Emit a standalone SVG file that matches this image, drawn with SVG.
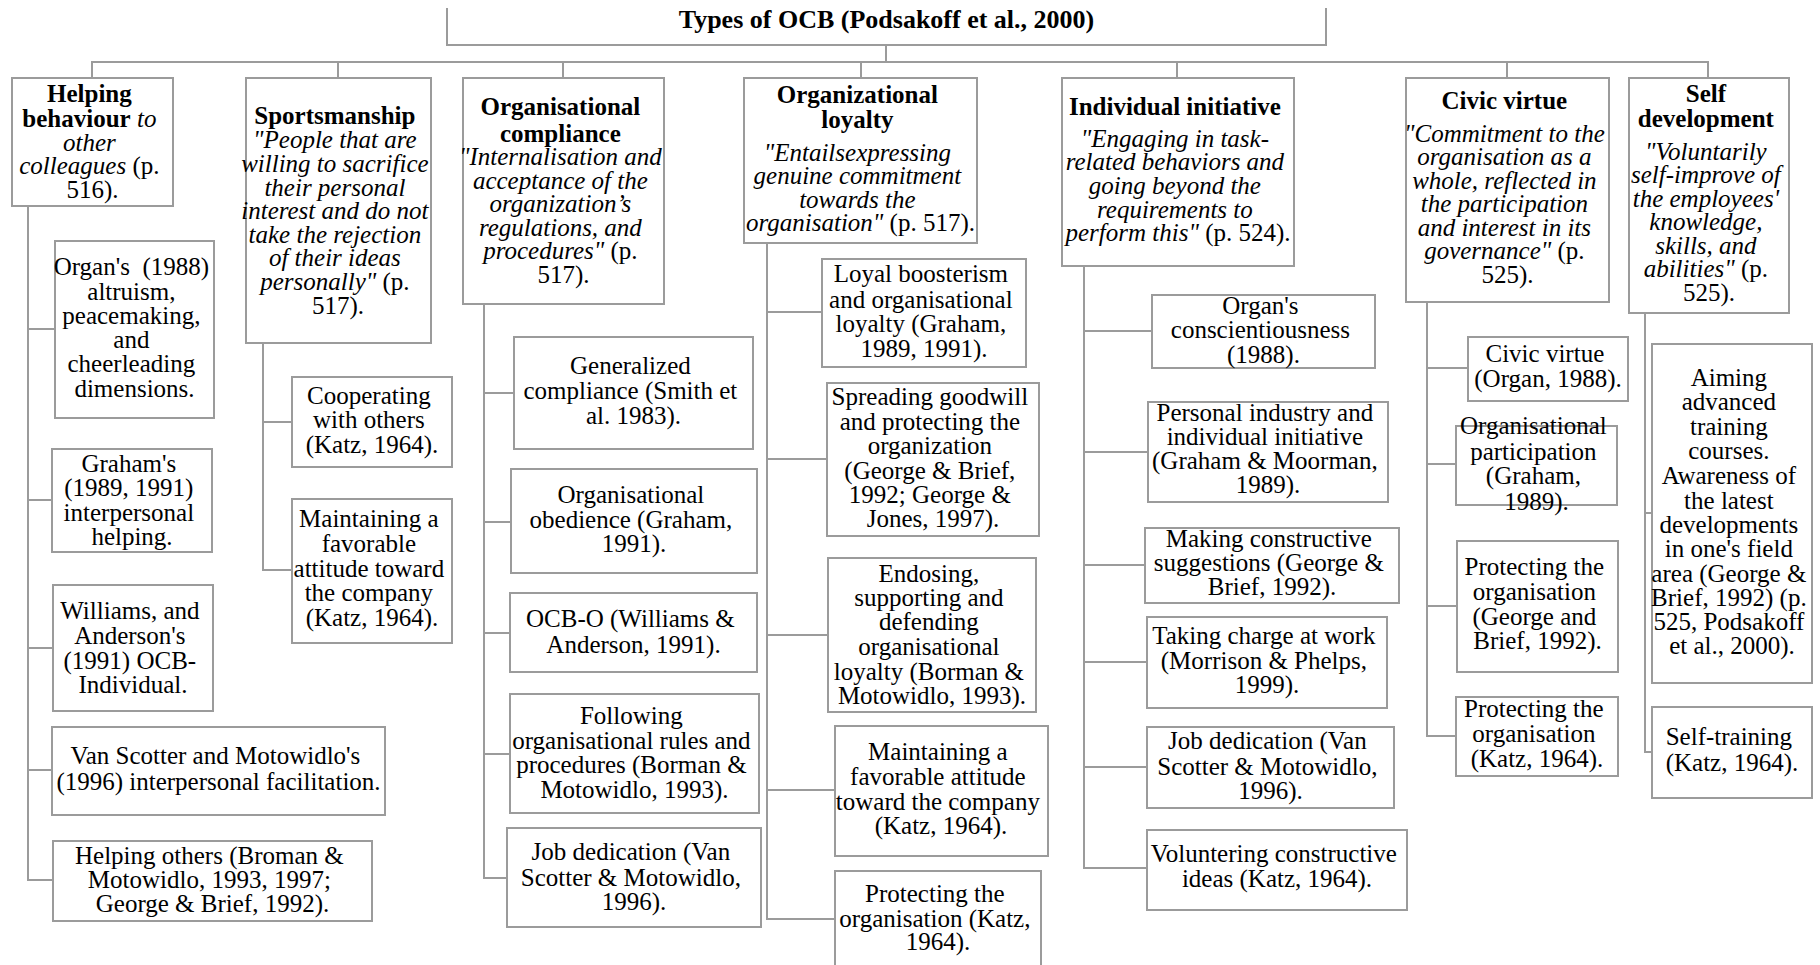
<svg xmlns="http://www.w3.org/2000/svg" width="1820" height="965" viewBox="0 0 1820 965">
  <style>
    .box { fill: #ffffff; stroke: #9b9b9b; stroke-width: 2; }
    .wire { fill: none; stroke: #9b9b9b; stroke-width: 2; }
    text { font-family: "Liberation Serif", "Times New Roman", serif; font-size: 25px; fill: #000000; text-anchor: middle; }
    .b { font-weight: bold; }
    .i { font-style: italic; }
    .head { font-size: 26px; font-weight: bold; }
  </style>

  <rect width="1820" height="965" fill="#ffffff"/>

  <!-- tree connectors -->
  <g id="connectors">
    <!-- root stem and top bus -->
    <path class="wire" d="M886,45 V62"/>
    <path class="wire" d="M92,78 V62 H1708 V78"/>
    <path class="wire" d="M338,62 V78 M563,62 V78 M861,62 V78 M1177,62 V78 M1507,62 V78"/>
    <!-- Helping behaviour branch -->
    <path class="wire" d="M28,206 V880 H53 M28,329 H55 M28,500 H52 M28,648 H53 M28,770 H52"/>
    <!-- Sportsmanship branch -->
    <path class="wire" d="M263,343 V570 H292 M263,422 H292"/>
    <!-- Organisational compliance branch -->
    <path class="wire" d="M484,304 V878 H507 M484,393 H514 M484,522 H511 M484,633 H510 M484,754 H510"/>
    <!-- Organizational loyalty branch -->
    <path class="wire" d="M767,243 V919 H835 M767,312 H822 M767,459 H827 M767,635 H828 M767,790 H835"/>
    <!-- Individual initiative branch -->
    <path class="wire" d="M1084,266 V868 H1147 M1084,331 H1152 M1084,452 H1148 M1084,565 H1145 M1084,662 H1147 M1084,767 H1147"/>
    <!-- Civic virtue branch -->
    <path class="wire" d="M1427,302 V736 H1456 M1427,368 H1468 M1427,464 H1456 M1427,606 H1457"/>
    <!-- Self development branch -->
    <path class="wire" d="M1645,313 V752 H1652 M1645,513 H1652"/>
  </g>

  <!-- root -->
  <g id="root">
    <path class="wire" d="M447,8 V45 H1326 V8"/>
    <text class="head" x="886.5" y="28">Types of OCB (Podsakoff et al., 2000)</text>
  </g>

  <!-- Helping behaviour -->
  <g id="helping">
    <rect class="box" x="12" y="78" width="161" height="128"/>
    <text>
      <tspan x="92.5" y="102" class="b">Helping</tspan>
      <tspan x="92.5" y="127"><tspan class="b">behaviour</tspan><tspan class="i"> to</tspan></tspan>
      <tspan x="92.5" y="150.5" class="i">other</tspan>
      <tspan x="92.5" y="174"><tspan class="i">colleagues</tspan> (p.</tspan>
      <tspan x="92.5" y="197.5">516).</tspan>
    </text>
  </g>
  <g id="helping-organ">
    <rect class="box" x="55" y="241" width="159" height="177"/>
    <text>
      <tspan x="134.5" y="275">Organ's&#160; (1988)</tspan>
      <tspan x="134.5" y="299.5">altruism,</tspan>
      <tspan x="134.5" y="323.5">peacemaking,</tspan>
      <tspan x="134.5" y="348">and</tspan>
      <tspan x="134.5" y="372">cheerleading</tspan>
      <tspan x="134.5" y="396.5">dimensions.</tspan>
    </text>
  </g>
  <g id="helping-graham">
    <rect class="box" x="52" y="449" width="160" height="103"/>
    <text>
      <tspan x="132" y="472">Graham's</tspan>
      <tspan x="132" y="496">(1989, 1991)</tspan>
      <tspan x="132" y="520.5">interpersonal</tspan>
      <tspan x="132" y="545">helping.</tspan>
    </text>
  </g>
  <g id="helping-williams">
    <rect class="box" x="53" y="585" width="160" height="126"/>
    <text>
      <tspan x="133" y="618.5">Williams, and</tspan>
      <tspan x="133" y="644">Anderson's</tspan>
      <tspan x="133" y="668.5">(1991) OCB-</tspan>
      <tspan x="133" y="693">Individual.</tspan>
    </text>
  </g>
  <g id="helping-vanscotter">
    <rect class="box" x="52" y="727" width="333" height="88"/>
    <text>
      <tspan x="218.5" y="764">Van Scotter and Motowidlo's</tspan>
      <tspan x="218.5" y="790">(1996) interpersonal facilitation.</tspan>
    </text>
  </g>
  <g id="helping-others">
    <rect class="box" x="53" y="841" width="319" height="80"/>
    <text>
      <tspan x="212.5" y="863.5">Helping others (Broman &amp;</tspan>
      <tspan x="212.5" y="888">Motowidlo, 1993, 1997;</tspan>
      <tspan x="212.5" y="912">George &amp; Brief, 1992).</tspan>
    </text>
  </g>

  <!-- Sportsmanship -->
  <g id="sportsmanship">
    <rect class="box" x="246" y="78" width="185" height="265"/>
    <text>
      <tspan x="338" y="123.5" class="b">Sportsmanship</tspan>
      <tspan x="338" y="148" class="i">"People that are</tspan>
      <tspan x="338" y="172" class="i">willing to sacrifice</tspan>
      <tspan x="338" y="195.5" class="i">their personal</tspan>
      <tspan x="338" y="219" class="i">interest and do not</tspan>
      <tspan x="338" y="242.5" class="i">take the rejection</tspan>
      <tspan x="338" y="266" class="i">of their ideas</tspan>
      <tspan x="338" y="289.5"><tspan class="i">personally"</tspan> (p.</tspan>
      <tspan x="338" y="313.5">517).</tspan>
    </text>
  </g>
  <g id="sports-cooperating">
    <rect class="box" x="292" y="377" width="160" height="90"/>
    <text>
      <tspan x="372" y="403.5">Cooperating</tspan>
      <tspan x="372" y="428">with others</tspan>
      <tspan x="372" y="452.5">(Katz, 1964).</tspan>
    </text>
  </g>
  <g id="sports-attitude">
    <rect class="box" x="292" y="499" width="160" height="144"/>
    <text>
      <tspan x="372" y="527">Maintaining a</tspan>
      <tspan x="372" y="551.5">favorable</tspan>
      <tspan x="372" y="576.5">attitude toward</tspan>
      <tspan x="372" y="601">the company</tspan>
      <tspan x="372" y="625.5">(Katz, 1964).</tspan>
    </text>
  </g>

  <!-- Organisational compliance -->
  <g id="compliance">
    <rect class="box" x="463" y="78" width="201" height="226"/>
    <text>
      <tspan x="563.5" y="115" class="b">Organisational</tspan>
      <tspan x="563.5" y="141.5" class="b">compliance</tspan>
      <tspan x="563.5" y="165" class="i">"Internalisation and</tspan>
      <tspan x="563.5" y="188.5" class="i">acceptance of the</tspan>
      <tspan x="563.5" y="212" class="i">organization’s</tspan>
      <tspan x="563.5" y="235.5" class="i">regulations, and</tspan>
      <tspan x="563.5" y="259"><tspan class="i">procedures"</tspan> (p.</tspan>
      <tspan x="563.5" y="282.5">517).</tspan>
    </text>
  </g>
  <g id="compliance-generalized">
    <rect class="box" x="514" y="337" width="239" height="112"/>
    <text>
      <tspan x="633.5" y="373.5">Generalized</tspan>
      <tspan x="633.5" y="399">compliance (Smith et</tspan>
      <tspan x="633.5" y="423.5">al. 1983).</tspan>
    </text>
  </g>
  <g id="compliance-obedience">
    <rect class="box" x="511" y="469" width="246" height="104"/>
    <text>
      <tspan x="634" y="503">Organisational</tspan>
      <tspan x="634" y="528">obedience (Graham,</tspan>
      <tspan x="634" y="552">1991).</tspan>
    </text>
  </g>
  <g id="compliance-ocbo">
    <rect class="box" x="510" y="593" width="247" height="79"/>
    <text>
      <tspan x="633.5" y="627">OCB-O (Williams &amp;</tspan>
      <tspan x="633.5" y="652.5">Anderson, 1991).</tspan>
    </text>
  </g>
  <g id="compliance-rules">
    <rect class="box" x="510" y="694" width="249" height="119"/>
    <text>
      <tspan x="634.5" y="723.5">Following</tspan>
      <tspan x="634.5" y="749">organisational rules and</tspan>
      <tspan x="634.5" y="773">procedures (Borman &amp;</tspan>
      <tspan x="634.5" y="797.5">Motowidlo, 1993).</tspan>
    </text>
  </g>
  <g id="compliance-dedication">
    <rect class="box" x="507" y="828" width="254" height="99"/>
    <text>
      <tspan x="634" y="860">Job dedication (Van</tspan>
      <tspan x="634" y="886">Scotter &amp; Motowidlo,</tspan>
      <tspan x="634" y="909.5">1996).</tspan>
    </text>
  </g>

  <!-- Organizational loyalty -->
  <g id="loyalty">
    <rect class="box" x="744" y="78" width="233" height="165"/>
    <text>
      <tspan x="860.5" y="103" class="b">Organizational</tspan>
      <tspan x="860.5" y="128" class="b">loyalty</tspan>
      <tspan x="860.5" y="160.5" class="i">"Entailsexpressing</tspan>
      <tspan x="860.5" y="184" class="i">genuine commitment</tspan>
      <tspan x="860.5" y="207.5" class="i">towards the</tspan>
      <tspan x="860.5" y="231"><tspan class="i">organisation"</tspan> (p. 517).</tspan>
    </text>
  </g>
  <g id="loyalty-boosterism">
    <rect class="box" x="822" y="259" width="204" height="108"/>
    <text>
      <tspan x="924" y="282">Loyal boosterism</tspan>
      <tspan x="924" y="307.5">and organisational</tspan>
      <tspan x="924" y="332">loyalty (Graham,</tspan>
      <tspan x="924" y="356.5">1989, 1991).</tspan>
    </text>
  </g>
  <g id="loyalty-goodwill">
    <rect class="box" x="827" y="383" width="212" height="153"/>
    <text>
      <tspan x="933" y="405">Spreading goodwill</tspan>
      <tspan x="933" y="429.5">and protecting the</tspan>
      <tspan x="933" y="454">organization</tspan>
      <tspan x="933" y="478.5">(George &amp; Brief,</tspan>
      <tspan x="933" y="502.5">1992; George &amp;</tspan>
      <tspan x="933" y="527">Jones, 1997).</tspan>
    </text>
  </g>
  <g id="loyalty-endorsing">
    <rect class="box" x="828" y="558" width="208" height="154"/>
    <text>
      <tspan x="932" y="582">Endosing,</tspan>
      <tspan x="932" y="606">supporting and</tspan>
      <tspan x="932" y="630">defending</tspan>
      <tspan x="932" y="655">organisational</tspan>
      <tspan x="932" y="679.5">loyalty (Borman &amp;</tspan>
      <tspan x="932" y="704">Motowidlo, 1993).</tspan>
    </text>
  </g>
  <g id="loyalty-attitude">
    <rect class="box" x="835" y="726" width="213" height="130"/>
    <text>
      <tspan x="941" y="760">Maintaining a</tspan>
      <tspan x="941" y="785">favorable attitude</tspan>
      <tspan x="941" y="809.5">toward the company</tspan>
      <tspan x="941" y="834">(Katz, 1964).</tspan>
    </text>
  </g>
  <g id="loyalty-protecting">
    <rect class="box" x="835" y="871" width="206" height="110"/>
    <text>
      <tspan x="938" y="902">Protecting the</tspan>
      <tspan x="938" y="926.5">organisation (Katz,</tspan>
      <tspan x="938" y="950">1964).</tspan>
    </text>
  </g>

  <!-- Individual initiative -->
  <g id="initiative">
    <rect class="box" x="1062" y="78" width="232" height="188"/>
    <text>
      <tspan x="1178" y="115" class="b">Individual initiative</tspan>
      <tspan x="1178" y="146.5" class="i">"Engaging in task-</tspan>
      <tspan x="1178" y="170" class="i">related behaviors and</tspan>
      <tspan x="1178" y="193.5" class="i">going beyond the</tspan>
      <tspan x="1178" y="217.5" class="i">requirements to</tspan>
      <tspan x="1178" y="241"><tspan class="i">perform this"</tspan> (p. 524).</tspan>
    </text>
  </g>
  <g id="initiative-conscientiousness">
    <rect class="box" x="1152" y="295" width="223" height="73"/>
    <text>
      <tspan x="1263.5" y="313.5">Organ's</tspan>
      <tspan x="1263.5" y="338">conscientiousness</tspan>
      <tspan x="1263.5" y="362.5">(1988).</tspan>
    </text>
  </g>
  <g id="initiative-industry">
    <rect class="box" x="1148" y="402" width="240" height="100"/>
    <text>
      <tspan x="1268" y="421">Personal industry and</tspan>
      <tspan x="1268" y="445">individual initiative</tspan>
      <tspan x="1268" y="469">(Graham &amp; Moorman,</tspan>
      <tspan x="1268" y="492.5">1989).</tspan>
    </text>
  </g>
  <g id="initiative-suggestions">
    <rect class="box" x="1145" y="528" width="254" height="75"/>
    <text>
      <tspan x="1272" y="547">Making constructive</tspan>
      <tspan x="1272" y="571">suggestions (George &amp;</tspan>
      <tspan x="1272" y="595">Brief, 1992).</tspan>
    </text>
  </g>
  <g id="initiative-charge">
    <rect class="box" x="1147" y="617" width="240" height="91"/>
    <text>
      <tspan x="1267" y="643.5">Taking charge at work</tspan>
      <tspan x="1267" y="668.5">(Morrison &amp; Phelps,</tspan>
      <tspan x="1267" y="692.5">1999).</tspan>
    </text>
  </g>
  <g id="initiative-dedication">
    <rect class="box" x="1147" y="727" width="247" height="81"/>
    <text>
      <tspan x="1270.5" y="748.5">Job dedication (Van</tspan>
      <tspan x="1270.5" y="774.5">Scotter &amp; Motowidlo,</tspan>
      <tspan x="1270.5" y="798.5">1996).</tspan>
    </text>
  </g>
  <g id="initiative-ideas">
    <rect class="box" x="1147" y="830" width="260" height="80"/>
    <text>
      <tspan x="1277" y="862">Voluntering constructive</tspan>
      <tspan x="1277" y="886.5">ideas (Katz, 1964).</tspan>
    </text>
  </g>

  <!-- Civic virtue -->
  <g id="civic">
    <rect class="box" x="1406" y="78" width="203" height="224"/>
    <text>
      <tspan x="1507.5" y="108.5" class="b">Civic virtue</tspan>
      <tspan x="1507.5" y="141.5" class="i">"Commitment to the</tspan>
      <tspan x="1507.5" y="165" class="i">organisation as a</tspan>
      <tspan x="1507.5" y="188.5" class="i">whole, reflected in</tspan>
      <tspan x="1507.5" y="212" class="i">the participation</tspan>
      <tspan x="1507.5" y="235.5" class="i">and interest in its</tspan>
      <tspan x="1507.5" y="259"><tspan class="i">governance"</tspan> (p.</tspan>
      <tspan x="1507.5" y="282.5">525).</tspan>
    </text>
  </g>
  <g id="civic-organ">
    <rect class="box" x="1468" y="337" width="160" height="64"/>
    <text>
      <tspan x="1548" y="362">Civic virtue</tspan>
      <tspan x="1548" y="386.5">(Organ, 1988).</tspan>
    </text>
  </g>
  <g id="civic-participation">
    <rect class="box" x="1456" y="426" width="161" height="79"/>
    <text>
      <tspan x="1536.5" y="434">Organisational</tspan>
      <tspan x="1536.5" y="459.5">participation</tspan>
      <tspan x="1536.5" y="484">(Graham,</tspan>
      <tspan x="1536.5" y="509.5">1989).</tspan>
    </text>
  </g>
  <g id="civic-protecting-gb">
    <rect class="box" x="1457" y="541" width="161" height="131"/>
    <text>
      <tspan x="1537.5" y="575">Protecting the</tspan>
      <tspan x="1537.5" y="600">organisation</tspan>
      <tspan x="1537.5" y="624.5">(George and</tspan>
      <tspan x="1537.5" y="649">Brief, 1992).</tspan>
    </text>
  </g>
  <g id="civic-protecting-katz">
    <rect class="box" x="1456" y="697" width="162" height="79"/>
    <text>
      <tspan x="1537" y="717">Protecting the</tspan>
      <tspan x="1537" y="742">organisation</tspan>
      <tspan x="1537" y="766.5">(Katz, 1964).</tspan>
    </text>
  </g>

  <!-- Self development -->
  <g id="selfdev">
    <rect class="box" x="1629" y="78" width="160" height="235"/>
    <text>
      <tspan x="1709" y="102" class="b">Self</tspan>
      <tspan x="1709" y="127" class="b">development</tspan>
      <tspan x="1709" y="159.5" class="i">"Voluntarily</tspan>
      <tspan x="1709" y="183" class="i">self-improve of</tspan>
      <tspan x="1709" y="206.5" class="i">the employees'</tspan>
      <tspan x="1709" y="230" class="i">knowledge,</tspan>
      <tspan x="1709" y="253.5" class="i">skills, and</tspan>
      <tspan x="1709" y="277"><tspan class="i">abilities"</tspan> (p.</tspan>
      <tspan x="1709" y="300.5">525).</tspan>
    </text>
  </g>
  <g id="selfdev-training">
    <rect class="box" x="1652" y="344" width="160" height="339"/>
    <text>
      <tspan x="1732" y="385.5">Aiming</tspan>
      <tspan x="1732" y="410">advanced</tspan>
      <tspan x="1732" y="434.5">training</tspan>
      <tspan x="1732" y="459">courses.</tspan>
      <tspan x="1732" y="483.5">Awareness of</tspan>
      <tspan x="1732" y="508.5">the latest</tspan>
      <tspan x="1732" y="533">developments</tspan>
      <tspan x="1732" y="557">in one's field</tspan>
      <tspan x="1732" y="581.5">area (George &amp;</tspan>
      <tspan x="1732" y="605.5">Brief, 1992) (p.</tspan>
      <tspan x="1732" y="630">525, Podsakoff</tspan>
      <tspan x="1732" y="653.5">et al., 2000).</tspan>
    </text>
  </g>
  <g id="selfdev-selftraining">
    <rect class="box" x="1652" y="707" width="160" height="91"/>
    <text>
      <tspan x="1732" y="745">Self-training</tspan>
      <tspan x="1732" y="770.5">(Katz, 1964).</tspan>
    </text>
  </g>
</svg>
